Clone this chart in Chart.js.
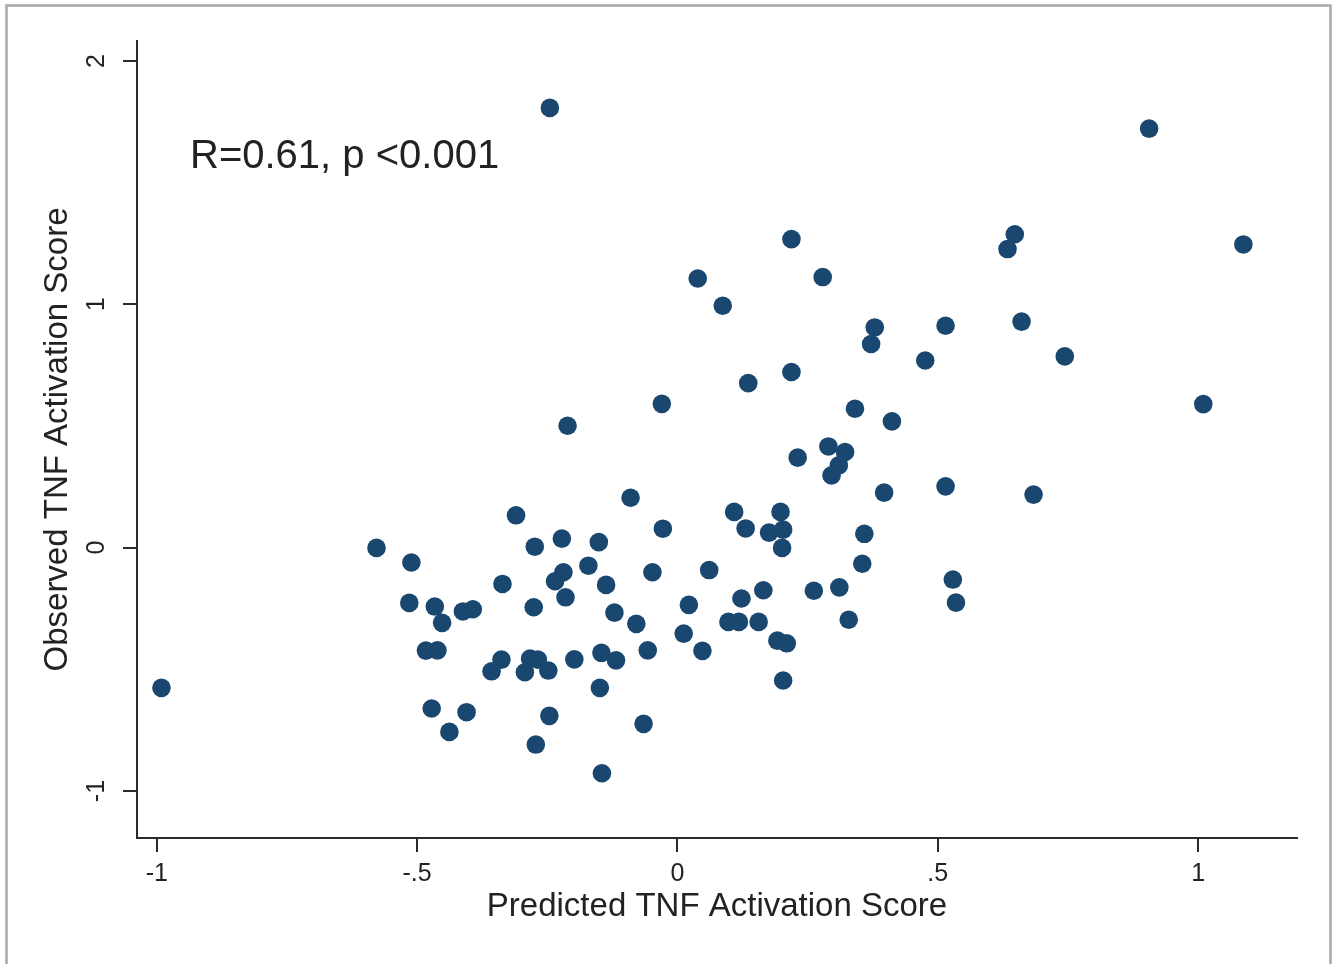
<!DOCTYPE html>
<html>
<head>
<meta charset="utf-8">
<script src="https://cdn.jsdelivr.net/npm/chart.js@4"></script>
<style>
    body { margin: 0; background: #fff; }
    #wrap { position: relative; width: 1339px; height: 964px; }
</style>
</head>
<body>
<div id="wrap"><canvas id="scatterChart" width="1339" height="964"></canvas></div>
<script>
        // Data
        const predicted = [
            -0.245, 0.906, 0.219, 0.648, 0.634, 1.087, 0.039, 0.279, 0.087, 0.379,
            0.372, 0.515, 0.661, 0.476, 0.744, 0.219, 0.136, -0.030, 1.010, 0.341,
            0.412, -0.211, 0.290, 0.322, 0.310, 0.296, 0.231, 0.397, 0.515, 0.684,
            -0.090, -0.310, 0.109, 0.198, 0.131, -0.028, 0.203, 0.176, 0.359, -0.222,
            -0.151, -0.274, -0.578, 0.201, -0.511, 0.355, -0.171, 0.061, -0.048, -0.219,
            -0.235, -0.336, -0.137, 0.529, 0.311, 0.262, 0.165, -0.215, 0.123, 0.535,
            -0.515, 0.022, -0.276, -0.466, -0.412, -0.393, -0.121, -0.452, 0.098, 0.118,
            0.156, -0.079, 0.329, 0.012, 0.192, 0.210, -0.483, -0.461, -0.057, 0.048,
            -0.146, -0.118, -0.338, -0.198, -0.283, -0.268, -0.357, -0.293, -0.248, 0.203,
            -0.149, -0.991, -0.472, -0.405, -0.246, -0.065, -0.438, -0.272, -0.145
        ];
        const observed = [
            1.807, 1.722, 1.268, 1.288, 1.227, 1.246, 1.106, 1.112, 0.994, 0.905,
            0.837, 0.912, 0.929, 0.769, 0.786, 0.722, 0.676, 0.591, 0.590, 0.571,
            0.519, 0.501, 0.416, 0.393, 0.338, 0.297, 0.370, 0.226, 0.252, 0.218,
            0.205, 0.133, 0.147, 0.147, 0.079, 0.078, 0.074, 0.062, 0.057, 0.037,
            0.023, 0.004, -0.001, -0.001, -0.061, -0.066, -0.074, -0.092, -0.101, -0.101,
            -0.138, -0.149, -0.153, -0.131, -0.163, -0.177, -0.175, -0.204, -0.209, -0.226,
            -0.227, -0.235, -0.245, -0.242, -0.262, -0.253, -0.267, -0.309, -0.305, -0.305,
            -0.305, -0.313, -0.296, -0.353, -0.382, -0.393, -0.423, -0.422, -0.422, -0.424,
            -0.432, -0.463, -0.460, -0.459, -0.456, -0.460, -0.508, -0.512, -0.505, -0.546,
            -0.576, -0.576, -0.661, -0.676, -0.691, -0.724, -0.757, -0.809, -0.927
        ];

        const xTicks = [-1, -0.5, 0, 0.5, 1];
        const xTickLabels = ['-1', '-.5', '0', '.5', '1'];
        const yTicks = [-1, 0, 1, 2];
        const yTickLabels = ['-1', '0', '1', '2'];

        const statText = 'R=0.61, p <0.001';
        const navy = '#1a476f';
        const axisColor = '#2b2b2b';
        const fontFamily = '"Liberation Sans", Arial, sans-serif';

        // outer frame + annotation
        const framePlugin = {
            id: 'frame',
            beforeDraw(chart) {
                const ctx = chart.ctx;
                ctx.save();
                ctx.fillStyle = '#fff';
                ctx.fillRect(0, 0, chart.width, chart.height);
                ctx.strokeStyle = '#a8a8a8';
                ctx.lineWidth = 2.5;
                ctx.strokeRect(6.5, 5.5, 1324, 980);
                ctx.restore();
            },
            afterDraw(chart) {
                const ctx = chart.ctx;
                ctx.save();
                ctx.fillStyle = '#222';
                ctx.font = '40px ' + fontFamily;
                ctx.textBaseline = 'middle';
                ctx.fillText(statText, 190, 157);
                ctx.restore();
            }
        };

        const points = predicted.map((x, i) => ({ x: x, y: observed[i] }));

        new Chart(document.getElementById('scatterChart'), {
            type: 'scatter',
            data: {
                datasets: [{
                    data: points,
                    backgroundColor: navy,
                    borderWidth: 0,
                    pointRadius: 9.3,
                    pointHoverRadius: 9.3
                }]
            },
            options: {
                responsive: false,
                animation: false,
                layout: { padding: { top: 41, right: 42, left: 0, bottom: 0 } },
                plugins: {
                    legend: { display: false },
                    tooltip: { enabled: false }
                },
                scales: {
                    x: {
                        type: 'linear',
                        min: -1.038,
                        max: 1.19,
                        afterBuildTicks: s => { s.ticks = xTicks.map(v => ({ value: v })); },
                        afterFit: s => { s.height = 126; },
                        border: { display: true, color: axisColor, width: 2 },
                        grid: { drawOnChartArea: false, drawTicks: true, tickLength: 14, color: axisColor, lineWidth: 2 },
                        ticks: {
                            color: '#222',
                            padding: 7,
                            font: { family: fontFamily, size: 25 },
                            callback: (v) => xTickLabels[xTicks.indexOf(v)]
                        },
                        title: {
                            display: true,
                            text: 'Predicted TNF Activation Score',
                            color: '#222',
                            font: { family: fontFamily, size: 33 },
                            padding: { top: 0, bottom: 37 }
                        }
                    },
                    y: {
                        type: 'linear',
                        min: -1.193,
                        max: 2.082,
                        afterBuildTicks: s => { s.ticks = yTicks.map(v => ({ value: v })); },
                        afterFit: s => { s.width = 137; },
                        border: { display: true, color: axisColor, width: 2 },
                        grid: { drawOnChartArea: false, drawTicks: true, tickLength: 14, color: axisColor, lineWidth: 2 },
                        ticks: {
                            color: '#222',
                            padding: 15,
                            minRotation: 90,
                            maxRotation: 90,
                            crossAlign: 'center',
                            font: { family: fontFamily, size: 25 },
                            callback: (v) => yTickLabels[yTicks.indexOf(v)]
                        },
                        title: {
                            display: true,
                            text: 'Observed TNF Activation Score',
                            color: '#222',
                            font: { family: fontFamily, size: 33 },
                            padding: { top: 38, bottom: 0 }
                        }
                    }
                }
            },
            plugins: [framePlugin]
        });
</script>
</body>
</html>
